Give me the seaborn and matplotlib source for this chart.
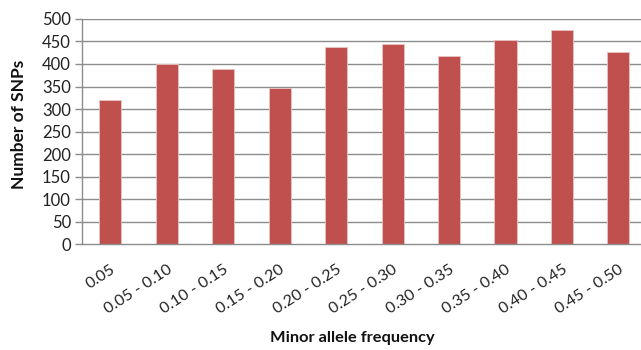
import matplotlib
matplotlib.use('Agg')
import matplotlib.pyplot as plt
import seaborn as sns
import pandas as pd

# ==============================
# Data
# ==============================
maf_bins = ["0.05", "0.05 - 0.10", "0.10 - 0.15", "0.15 - 0.20", "0.20 - 0.25",
            "0.25 - 0.30", "0.30 - 0.35", "0.35 - 0.40", "0.40 - 0.45", "0.45 - 0.50"]
snp_counts = [320, 401, 389, 346, 437, 444, 418, 453, 476, 426]
y_ticks = [0, 50, 100, 150, 200, 250, 300, 350, 400, 450, 500]

df = pd.DataFrame({"maf": maf_bins, "count": snp_counts})

sns.set_style("white")
plt.rcParams['font.family'] = ['Lato', 'DejaVu Sans']

fig = plt.figure(figsize=(6.41, 3.5), dpi=100)
ax = fig.add_axes([0.128, 0.302, 0.872, 0.644])

grid_col = "#8c8c8c"
for t in y_ticks[1:]:
    ax.axhline(t, color=grid_col, lw=1.0, zorder=0)

sns.barplot(data=df, x="maf", y="count", color="#C0504D", width=0.39,
            edgecolor="#e8c4c3", linewidth=0.6, saturation=1, ax=ax, zorder=2)

ax.set_ylim(0, 500)
ax.set_xlim(-0.5, 9.4)
ax.set_yticks(y_ticks)
ax.set_yticklabels([str(t) for t in y_ticks], fontsize=12, color="#222222")
ax.set_xticks(range(len(maf_bins)))
ax.set_xticklabels(maf_bins, rotation=33, ha="right", va="top",
                   rotation_mode="anchor", fontsize=11.5, color="#222222")
ax.tick_params(axis="x", length=0, pad=13)
ax.tick_params(axis="y", length=5, color=grid_col, width=1.0, pad=3, left=True)

for side in ["top", "right"]:
    ax.spines[side].set_visible(False)
ax.spines["left"].set_color(grid_col)
ax.spines["bottom"].set_color(grid_col)
ax.spines["left"].set_linewidth(1.0)
ax.spines["bottom"].set_linewidth(1.0)

ax.set_xlabel("")
ax.set_ylabel("")
fig.text(0.549, 0.033, "Minor allele frequency", ha="center", va="center",
         fontsize=11.8, fontweight="bold", color="#111111")
fig.text(0.03, 0.645, "Number of SNPs", ha="center", va="center",
         rotation=90, fontsize=12.5, fontweight="bold", color="#111111")

fig.savefig("out.png", dpi=100)
plt.close()
